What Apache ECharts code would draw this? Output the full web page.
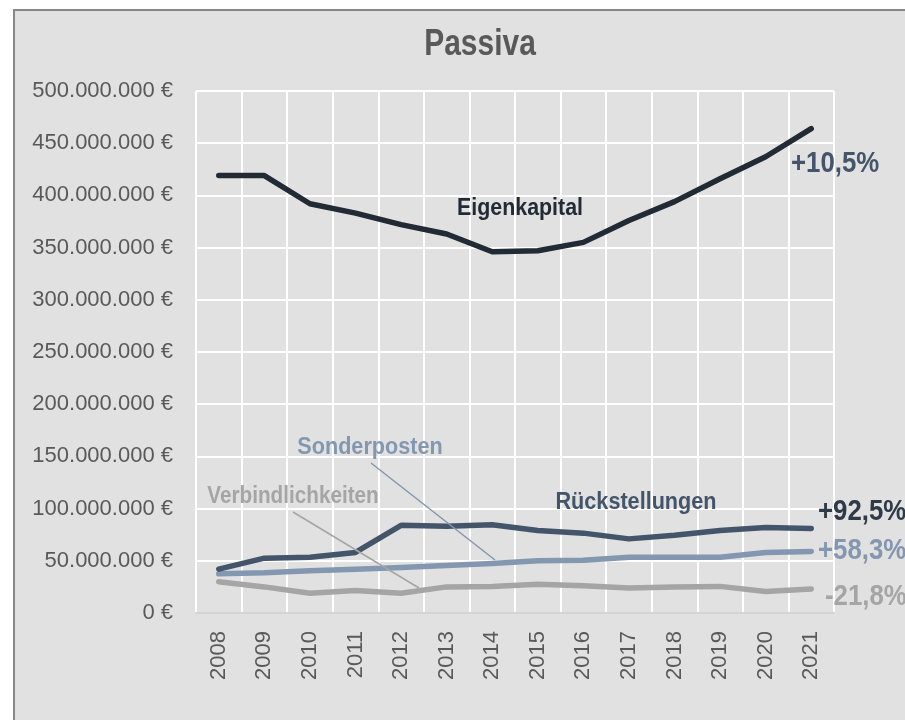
<!DOCTYPE html>
<html>
<head>
<meta charset="utf-8">
<script src="https://cdn.jsdelivr.net/npm/echarts@6/dist/echarts.min.js"></script>
<style>
  html, body { margin: 0; padding: 0; background: #fff; overflow: hidden; }
  #frame { position: absolute; left: 13px; top: 9px; width: 920px; height: 740px;
           border: 2px solid #878787; background: #e1e1e1; }
  #main { position: absolute; left: 0; top: 0; width: 905px; height: 720px; }
</style>
</head>
<body>
<div id="frame"></div>
<div id="main"></div>
<script>
// values in million euros
var years = ['2008', '2009', '2010', '2011', '2012', '2013', '2014', '2015', '2016', '2017', '2018', '2019', '2020', '2021'];
var eigenkapital = [419, 419, 392, 383, 372, 363, 346, 347, 355, 376, 394, 416, 437, 464];
var rueckstellungen = [42, 52.5, 53.5, 58, 84, 83, 84.5, 79, 76.5, 71, 74.5, 79, 82, 81];
var sonderposten = [37.5, 38.5, 40.5, 42, 43.5, 45.5, 47.5, 50, 50.5, 53.5, 53.5, 53.5, 58, 59];
var verbindlichkeiten = [30, 25, 19, 21.5, 19, 25, 25.5, 27.5, 26, 24, 25, 25.5, 20.5, 23];

var changes = ['+10,5%', '+92,5%', '+58,3%', '-21,8%'];

var font = "'Liberation Sans', Arial, sans-serif";

function euro(v) {
    var s = String(Math.round(v * 1000000)).replace(/\B(?=(\d{3})+(?!\d))/g, '.');
    return s + ' €';
}

function lineSeries(name, data, color) {
    return {
        name: name,
        type: 'line',
        data: data,
        symbol: 'none',
        lineStyle: { color: color, width: 5.5, cap: 'round', join: 'round' },
        itemStyle: { color: color },
        animation: false
    };
}

function txt(text, x, y, color, size, align, sx) {
    return {
        type: 'text', x: x, y: y, scaleX: sx || 1, silent: true, z: 100,
        style: {
            text: text, fill: color, font: 'bold ' + size + 'px ' + font,
            textAlign: align || 'center', textVerticalAlign: 'middle'
        }
    };
}

var chart = echarts.init(document.getElementById('main'), null, { renderer: 'canvas' });

var option = {
    backgroundColor: 'transparent',
    animation: false,
    grid: { left: 196, right: 71, top: 91, bottom: 107, containLabel: false },
    xAxis: {
        type: 'category',
        data: years,
        boundaryGap: true,
        axisLine: { lineStyle: { color: '#d4d4d4', width: 2 } },
        axisTick: { show: false },
        splitLine: { show: true, lineStyle: { color: '#ffffff', width: 2 } },
        axisLabel: { rotate: 90, margin: 18, fontSize: 22, color: '#595959', fontFamily: font, interval: 0 }
    },
    yAxis: {
        type: 'value',
        min: 0,
        max: 500,
        interval: 50,
        axisLine: { show: false },
        axisTick: { show: false },
        splitLine: { lineStyle: { color: '#ffffff', width: 2 } },
        axisLabel: { margin: 23, fontSize: 22, color: '#595959', fontFamily: font, formatter: euro }
    },
    series: [
        lineSeries('Verbindlichkeiten', verbindlichkeiten, '#a5a5a5'),
        lineSeries('Sonderposten', sonderposten, '#8497b0'),
        lineSeries('Rückstellungen', rueckstellungen, '#44546a'),
        lineSeries('Eigenkapital', eigenkapital, '#222a35')
    ],
    graphic: [
        txt('Passiva', 480, 45, '#595959', 37, 'center', 0.81),
        txt('Eigenkapital', 520, 209, '#222a35', 23, 'center', 0.93),
        txt('Rückstellungen', 636, 503, '#44546a', 23, 'center', 0.94),
        txt('Sonderposten', 370, 448, '#8497b0', 23, 'center', 0.94),
        txt('Verbindlichkeiten', 293, 497, '#a5a5a5', 23, 'center', 0.9),
        { type: 'line', silent: true, z: 100, shape: { x1: 371, y1: 463, x2: 495, y2: 560 },
          style: { stroke: '#8497b0', lineWidth: 1.5 } },
        { type: 'line', silent: true, z: 100, shape: { x1: 293, y1: 512, x2: 419, y2: 588 },
          style: { stroke: '#a5a5a5', lineWidth: 1.5 } },
        txt(changes[0], 791, 164, '#44546a', 30, 'left', 0.86),
        txt(changes[1], 818, 512, '#2f3a48', 30, 'left', 0.86),
        txt(changes[2], 818, 551, '#8497b0', 30, 'left', 0.86),
        txt(changes[3], 825, 597, '#a5a5a5', 30, 'left', 0.86)
    ]
};

chart.setOption(option);
</script>
</body>
</html>
